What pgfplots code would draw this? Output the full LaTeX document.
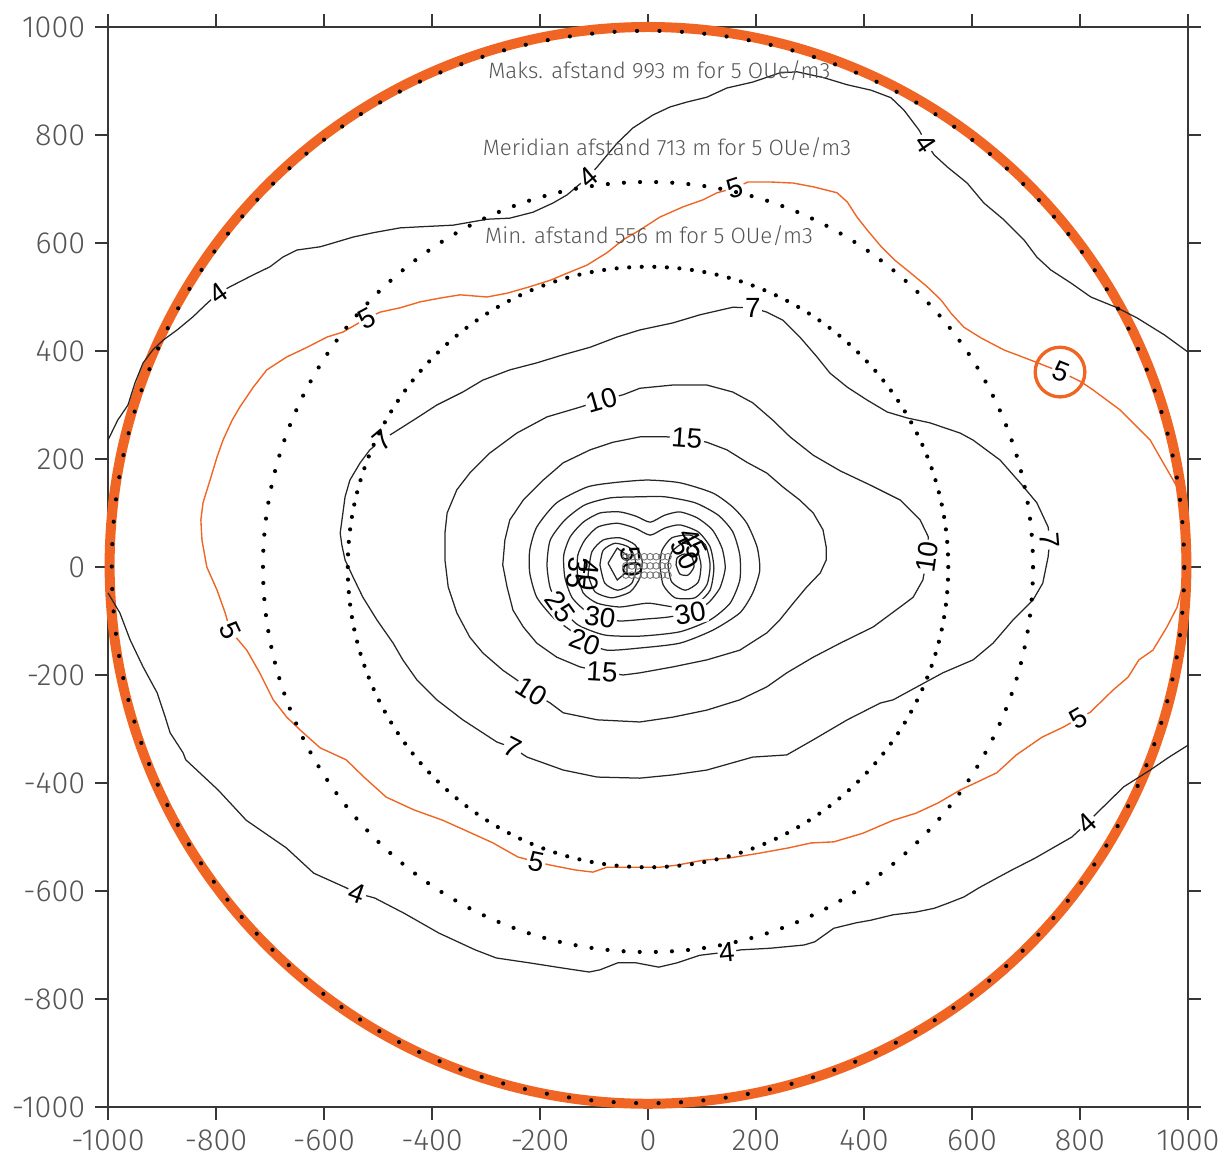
\documentclass[border=0pt]{standalone}
\usepackage{fontspec}
\setmainfont{Fira Sans}[UprightFont={* Light}]
\newfontfamily\clabfont{Liberation Sans}
\usepackage{pgfplots}
\pgfplotsset{compat=1.18}
\usetikzlibrary{calc}

\definecolor{orng}{RGB}{240,101,36}
\definecolor{axgray}{RGB}{55,55,55}
\definecolor{txtgray}{RGB}{85,85,85}

\pgfplotsset{
  cont/.style={black!85, line width=0.45pt},
  ocont/.style={orng, line width=0.5pt},
}
% contour label: x, y, rotation, text
\newcommand\clab[4]{\node[fill=white, inner sep=0.6pt, rotate=#3,
  font=\clabfont\fontsize{10}{12}\selectfont] at (axis cs:#1,#2) {#4};}
\newcommand\clabn[4]{\node[inner sep=0pt, rotate=#3,
  font=\clabfont\fontsize{10}{12}\selectfont] at (axis cs:#1,#2) {#4};}

\begin{document}
\begin{tikzpicture}
\begin{axis}[
  width=388.8pt, height=388.8pt, scale only axis,
  xmin=-1000, xmax=1000, ymin=-1000, ymax=1000,
  xtick={-1000,-800,-600,-400,-200,0,200,400,600,800,1000},
  ytick={-1000,-800,-600,-400,-200,0,200,400,600,800,1000},
  tick align=outside, tick pos=both,
  major tick length=4.7pt,
  axis line style={axgray, line width=0.7pt},
  every tick/.style={axgray, line width=0.7pt},
  tick label style={font=\fontsize{11}{13}\selectfont, text=txtgray},
  /pgf/number format/assume math mode=true,
  /pgf/number format/1000 sep={},
  clip=false,
]
% outer orange circle (max distance)
\draw[orng, line width=3.6pt] (axis cs:0,3) circle[radius=997];

% contour 4, upper branch
\addplot[cont] coordinates {
(-1000,235) (-982,272) (-963,300) (-950,341) (-935,378) (-917,402) (-898,420)
(-872,439) (-843,463) (-820,485) (-796,507) (-774,519) (-731,541) (-700,556)
(-676,574) (-650,587) (-607,593) (-583,600) (-546,611) (-509,619) (-459,628)
(-422,630) (-361,633) (-298,644) (-256,646) (-213,657) (-176,674) (-150,689)
(-111,722) (-94,741) (-57,785) (-28,813) (9,837) (41,852) (72,861) (109,870)
(146,887) (194,898) (244,915) (276,917) (326,906) (369,893) (413,883) (450,869)
(474,846) (502,809) (515,785) (530,763) (554,741) (591,711) (622,674) (659,643)
(696,606) (720,574) (746,550) (783,526) (820,500) (869,480) (906,461) (956,430)
(1000,398)
};
% contour 4, lower branch
\addplot[cont] coordinates {
(-1000,-48) (-978,-85) (-959,-135) (-935,-185) (-909,-233) (-894,-278) (-885,-307)
(-861,-344) (-856,-357) (-796,-413) (-744,-469) (-670,-520) (-619,-567) (-559,-594)
(-539,-604) (-506,-613) (-452,-641) (-387,-678) (-320,-709) (-281,-724) (-220,-733)
(-156,-743) (-109,-750) (-89,-746) (-56,-733) (-22,-733) (20,-741) (54,-733)
(96,-719) (146,-713) (172,-709) (226,-706) (289,-700) (309,-694) (344,-669)
(385,-659) (413,-654) (454,-644) (496,-639) (530,-632) (557,-622) (585,-611)
(613,-594) (646,-576) (674,-561) (717,-539) (750,-520) (785,-500) (813,-474)
(833,-454) (881,-407) (930,-376) (965,-352) (1000,-330)
};
% contour 5 (orange)
\addplot[ocont] coordinates {
(-520,461) (-496,472) (-459,480) (-422,491) (-385,498) (-348,504) (-298,500)
(-261,507) (-219,519) (-181,531) (-150,544) (-113,559) (-76,582) (-46,606)
(-15,624) (22,648) (65,667) (102,680) (128,693) (161,702) (185,713) (226,713)
(269,711) (306,704) (350,693) (369,676) (387,648) (406,624) (432,593) (456,569)
(487,544) (517,519) (543,494) (561,470) (585,444) (617,424) (659,402) (709,383)
(765,361) (802,343) (824,328) (874,291) (906,259) (930,235) (954,193) (980,148)
(991,111) (998,63) (998,0) (991,-30) (980,-74) (961,-111) (935,-154) (909,-172)
(889,-204) (861,-228) (819,-269) (798,-280) (770,-296) (730,-315) (682,-348)
(646,-381) (606,-400) (578,-413) (537,-437) (496,-456) (454,-469) (398,-493)
(344,-509) (302,-511) (261,-520) (206,-530) (150,-539) (102,-543) (54,-552)
(22,-556) (-35,-556) (-76,-556) (-102,-565) (-135,-561) (-181,-552) (-207,-546)
(-241,-537) (-287,-511) (-320,-496) (-380,-469) (-433,-450) (-485,-426)
(-526,-389) (-559,-357) (-607,-335) (-644,-302) (-669,-278) (-694,-246)
(-719,-196) (-743,-154) (-759,-135) (-774,-117) (-783,-85) (-798,-43) (-817,0)
(-826,50) (-828,87) (-824,119) (-811,161) (-798,204) (-787,235) (-770,272)
(-756,296) (-731,333) (-706,365) (-669,389) (-631,407) (-594,426) (-565,435)
(-520,461)
};
% contour 7
\addplot[cont] coordinates {
(-493,235) (-469,250) (-428,276) (-391,300) (-343,324) (-306,346) (-256,365)
(-206,378) (-157,393) (-107,407) (-57,426) (-15,439) (46,452) (96,467) (157,481)
(194,480) (220,472) (250,457) (281,426) (313,389) (337,359) (369,333) (406,309)
(443,287) (480,276) (522,267) (578,248) (602,235) (652,198) (689,156) (720,119)
(741,74) (744,50) (741,19) (731,-30) (713,-61) (676,-98) (639,-141) (602,-172)
(546,-196) (498,-222) (454,-246) (430,-252) (369,-283) (306,-320) (257,-348)
(194,-352) (109,-376) (46,-385) (-15,-391) (-94,-389) (-157,-376) (-224,-352)
(-250,-335) (-280,-324) (-343,-283) (-391,-246) (-428,-209) (-454,-172)
(-472,-141) (-502,-98) (-528,-56) (-546,-19) (-561,13) (-567,41) (-570,63)
(-565,100) (-561,130) (-552,161) (-533,193) (-515,217) (-493,235)
};
% contour 10
\addplot[cont] coordinates {
(-85,309) (-46,319) (-15,331) (46,337) (109,337) (157,324) (194,304) (231,272)
(263,241) (306,207) (356,178) (411,152) (467,124) (504,87) (519,56) (517,19)
(509,-24) (491,-56) (467,-74) (417,-111) (356,-141) (306,-167) (257,-196)
(220,-222) (170,-246) (109,-265) (46,-278) (-15,-287) (-94,-283) (-157,-270)
(-181,-252) (-215,-231) (-243,-209) (-269,-191) (-306,-159) (-330,-130)
(-354,-85) (-370,-37) (-376,13) (-376,63) (-372,100) (-354,143) (-330,174)
(-293,211) (-243,248) (-187,278) (-126,296) (-85,309)
};
% contour 15
\addplot[cont] coordinates {
(72,239) (109,231) (146,217) (183,194) (220,174) (250,148) (281,124) (306,100)
(324,69) (330,37) (330,13) (319,-11) (294,-37) (269,-67) (244,-98) (220,-122)
(170,-154) (109,-172) (46,-185) (-15,-196) (-46,-200) (-85,-194) (-126,-185)
(-169,-167) (-206,-141) (-231,-111) (-250,-80) (-261,-37) (-269,4) (-265,50)
(-256,87) (-231,124) (-194,161) (-157,193) (-107,217) (-65,231) (-15,241)
(35,241) (72,239)
};
% contour 20
\addplot[cont, smooth, tension=0.4] coordinates {
(-117,-139) (-76,-154) (-15,-150) (59,-141) (120,-117) (170,-85) (194,-48)
(207,-6) (202,37) (183,81) (157,111) (120,137) (59,156) (-2,161) (-65,156)
(-113,148) (-169,119) (-206,74) (-219,31) (-219,-11) (-206,-56) (-176,-93)
(-144,-117) (-117,-139)
};
% contour 25
\addplot[cont, smooth, tension=0.4] coordinates {
(-163,-74) (-130,-107) (-80,-126) (-15,-128) (59,-120) (115,-98) (152,-67)
(170,-24) (170,22) (157,65) (130,96) (87,119) (31,130) (-15,130) (-70,128)
(-117,115) (-154,87) (-181,50) (-187,4) (-181,-39) (-163,-74)
};
% contour 30
\addplot[cont, smooth, tension=0.4] coordinates {
(-89,-93) (-52,-100) (0,-96) (35,-93) (78,-85) (111,-67) (133,-39) (143,-2)
(137,35) (119,69) (91,91) (59,102) (31,96) (4,83) (-22,94) (-52,102) (-89,100)
(-120,83) (-144,56) (-156,22) (-154,-19) (-141,-56) (-117,-80) (-89,-93)
};
% contour 35
\addplot[cont, smooth, tension=0.4] coordinates {
(-131,-11) (-120,-48) (-94,-67) (-52,-74) (0,-67) (50,-74) (91,-67) (115,-43)
(122,-2) (115,37) (93,65) (59,78) (31,72) (4,59) (-24,72) (-57,81) (-93,74)
(-117,50) (-130,22) (-131,-11)
};
% contour 40, two lobes
\addplot[cont, smooth, tension=0.4] coordinates {
(-111,-15) (-98,-46) (-67,-57) (-33,-46) (-15,-20) (-11,13) (-24,41) (-52,54)
(-83,50) (-104,28) (-111,-15)
};
\addplot[cont, smooth, tension=0.4] coordinates {
(22,4) (28,-33) (50,-57) (87,-57) (109,-33) (115,4) (106,41) (78,59) (44,54)
(26,31) (22,4)
};
% contour 45, two lobes
\addplot[cont, smooth, tension=0.4] coordinates {
(-89,4) (-80,-30) (-56,-43) (-30,-30) (-22,4) (-33,35) (-61,44) (-83,31) (-89,4)
};
\addplot[cont, smooth, tension=0.4] coordinates {
(37,4) (44,-28) (69,-43) (93,-28) (98,4) (89,35) (65,44) (44,28) (37,4)
};
% contour 50, two lobes
\addplot[cont] coordinates {
(-74,7) (-57,-24) (-39,-9) (-39,22) (-57,35) (-74,7)
};
\addplot[cont, smooth, tension=0.4] coordinates {
(52,4) (59,-13) (74,-15) (85,0) (81,19) (67,24) (54,17) (52,4)
};
% source points in the centre
\addplot[only marks, mark=o, mark size=1.2pt, black!55, mark options={line width=0.3pt}] coordinates {
(-41,19) (-30,19) (-19,19) (-7,19) (4,19) (15,19) (26,19) (37,19)
(-41,2) (-30,2) (-19,2) (-7,2) (4,2) (15,2) (26,2) (37,2)
(-41,-15) (-30,-15) (-19,-15) (-7,-15) (4,-15) (15,-15) (26,-15) (37,-15)
};

% contour labels
\clab{-796}{507}{35}{4}
\clab{-111}{722}{40}{4}
\clab{515}{785}{-56}{4}
\clab{-539}{-604}{-20}{4}
\clab{146}{-713}{5}{4}
\clab{813}{-474}{42}{4}
\clab{-520}{461}{28}{5}
\clab{161}{702}{18}{5}
\clab{765}{361}{-22}{5}
\clab{798}{-280}{30}{5}
\clab{-207}{-546}{-12}{5}
\clab{-774}{-117}{-65}{5}
\clab{-493}{235}{40}{7}
\clab{194}{480}{0}{7}
\clab{744}{50}{-85}{7}
\clab{-250}{-335}{-27}{7}
\clab{-85}{309}{16}{10}
\clab{517}{19}{82}{10}
\clab{-215}{-231}{-32}{10}
\clab{72}{239}{-4}{15}
\clab{-85}{-194}{-3}{15}
\clab{-117}{-139}{-20}{20}
\clab{-163}{-74}{-55}{25}
\clab{-89}{-93}{-8}{30}
\clab{78}{-85}{10}{30}
\clabn{-131}{-11}{-95}{35}
\clabn{-109}{-15}{-95}{40}
\clabn{83}{44}{-62}{45}
\clabn{69}{24}{-62}{50}
\clabn{-30}{10}{-85}{50}

% circled label
\draw[orng, line width=1.2pt] (axis cs:763,361) circle[radius=46];

% dotted distance circles
\draw[black, line width=1.5pt, line cap=round, dash pattern=on 0pt off 4.528pt]
  (axis cs:0,0) circle[radius=556];
\draw[black, line width=1.5pt, line cap=round, dash pattern=on 0pt off 5.806pt]
  (axis cs:0,0) circle[radius=713];
\draw[black, line width=1.5pt, line cap=round, dash pattern=on 0pt off 8.085pt]
  (axis cs:0,0) circle[radius=993];

% annotations
\node[text=txtgray, font=\fontsize{8}{10}\selectfont] at (axis cs:21,920)
  {Maks. afstand 993 m for 5 OUe/m3};
\node[text=txtgray, font=\fontsize{8}{10}\selectfont] at (axis cs:35,776)
  {Meridian afstand 713 m for 5 OUe/m3};
\node[text=txtgray, font=\fontsize{8}{10}\selectfont] at (axis cs:2,613)
  {Min. afstand 556 m for 5 OUe/m3};
\end{axis}
\pgfresetboundingbox
\useasboundingbox ($(current axis.south west)+(-38.88pt,-19.44pt)$)
  rectangle ($(current axis.north east)+(12.96pt,9.72pt)$);
\end{tikzpicture}
\end{document}
